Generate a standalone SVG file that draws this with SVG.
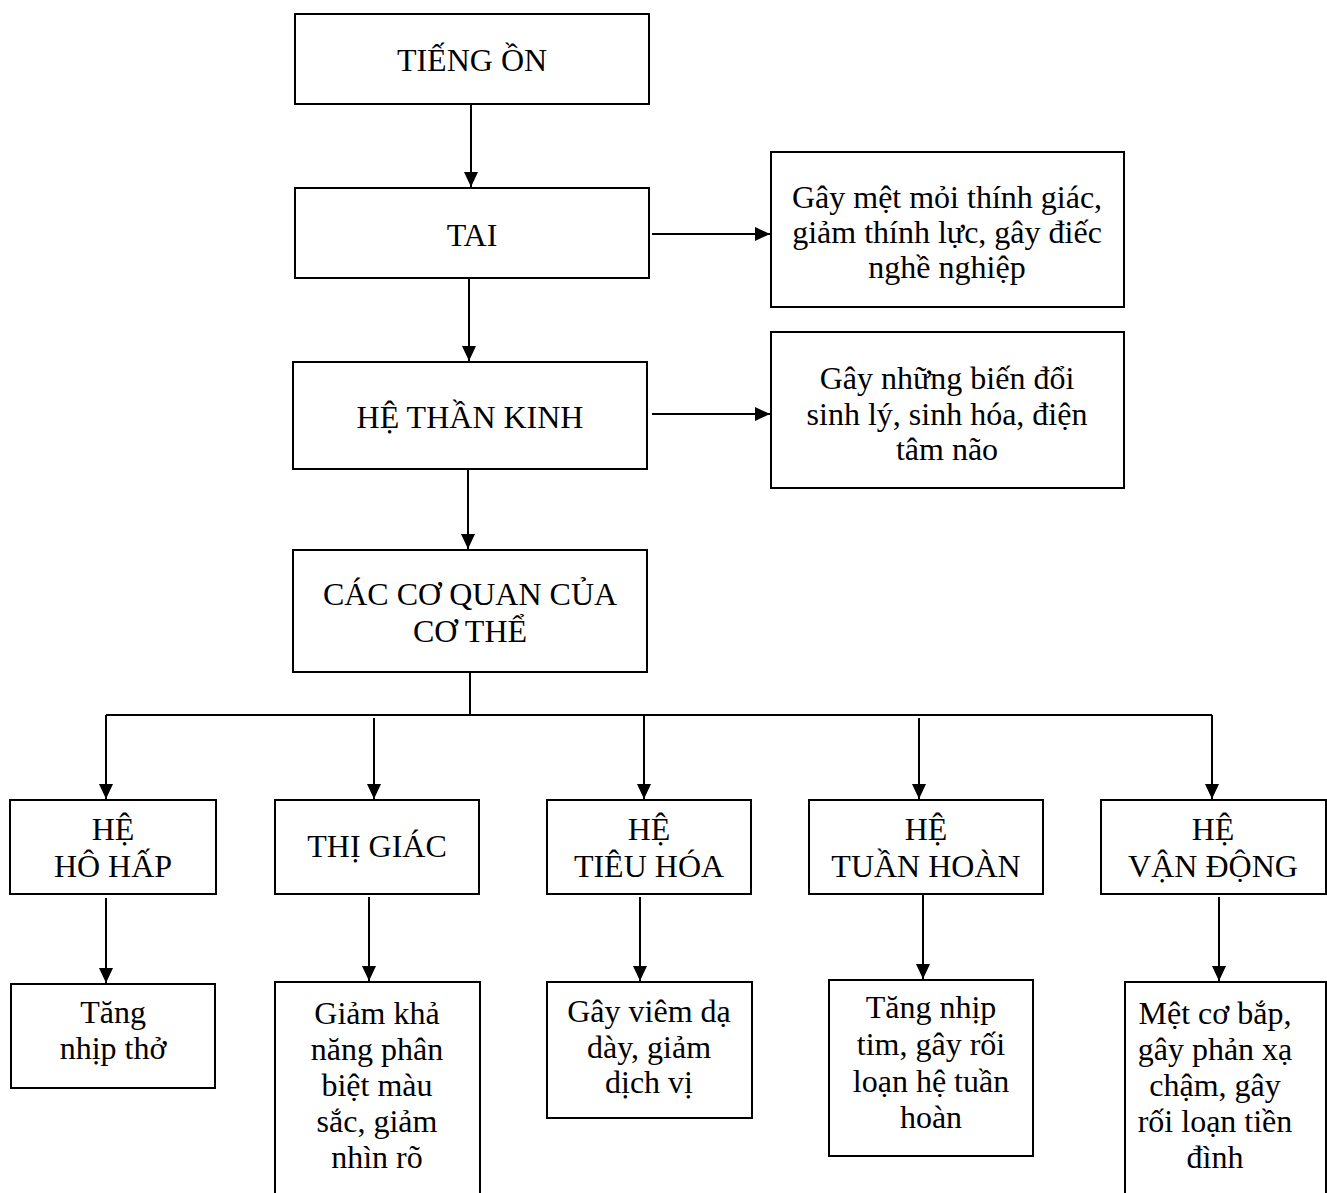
<svg xmlns="http://www.w3.org/2000/svg" width="1327" height="1193" viewBox="0 0 1327 1193">
<style>
.box{fill:#fff;stroke:#000;stroke-width:2}
.t{font-family:"Liberation Serif","Times New Roman",serif;font-size:32px;fill:#000;text-anchor:middle}
.c{stroke:#000;stroke-width:2;fill:none}
.ca{stroke:#000;stroke-width:2;fill:none;marker-end:url(#ah)}
</style>
<defs>
<marker id="ah" viewBox="0 0 15 14" refX="15" refY="7" markerWidth="15" markerHeight="14" markerUnits="userSpaceOnUse" orient="auto">
<path d="M0,0 L15,7 L0,14 z" fill="#000"/>
</marker>
</defs>
<rect width="1327" height="1193" fill="#fff"/>
<g id="connectors">
<line class="ca" x1="471" y1="105" x2="471" y2="187"/>
<line class="ca" x1="469" y1="278" x2="469" y2="361"/>
<line class="ca" x1="468" y1="469" x2="468" y2="549"/>
<line class="ca" x1="652" y1="234" x2="770" y2="234"/>
<line class="ca" x1="652" y1="414" x2="770" y2="414"/>
<line class="c" x1="470" y1="672" x2="470" y2="716"/>
<line class="c" x1="106" y1="715" x2="1212" y2="715"/>
<line class="ca" x1="106" y1="715" x2="106" y2="799"/>
<line class="ca" x1="374" y1="718" x2="374" y2="799"/>
<line class="ca" x1="644" y1="715" x2="644" y2="799"/>
<line class="ca" x1="919" y1="718" x2="919" y2="799"/>
<line class="ca" x1="1212" y1="715" x2="1212" y2="799"/>
<line class="ca" x1="106" y1="898" x2="106" y2="983"/>
<line class="ca" x1="369" y1="897" x2="369" y2="981"/>
<line class="ca" x1="640" y1="897" x2="640" y2="981"/>
<line class="ca" x1="923" y1="895" x2="923" y2="979"/>
<line class="ca" x1="1219" y1="897" x2="1219" y2="981"/>
</g>
<g id="n-tiengon">
<rect class="box" x="295" y="14" width="354" height="90"/>
<text class="t" x="472" y="71">TIẾNG ỒN</text>
</g>
<g id="n-tai">
<rect class="box" x="295" y="188" width="354" height="90"/>
<text class="t" x="472" y="246">TAI</text>
</g>
<g id="n-tai-effect">
<rect class="box" x="771" y="152" width="353" height="155"/>
<text class="t" x="947" y="208">Gây mệt mỏi thính giác,</text>
<text class="t" x="947" y="243">giảm thính lực, gây điếc</text>
<text class="t" x="947" y="278">nghề nghiệp</text>
</g>
<g id="n-htk">
<rect class="box" x="293" y="362" width="354" height="107"/>
<text class="t" x="470" y="428">HỆ THẦN KINH</text>
</g>
<g id="n-htk-effect">
<rect class="box" x="771" y="332" width="353" height="156"/>
<text class="t" x="947" y="389">Gây những biến đổi</text>
<text class="t" x="947" y="425">sinh lý, sinh hóa, điện</text>
<text class="t" x="947" y="460">tâm não</text>
</g>
<g id="n-coquan">
<rect class="box" x="293" y="550" width="354" height="122"/>
<text class="t" x="470" y="605">CÁC CƠ QUAN CỦA</text>
<text class="t" x="470" y="642">CƠ THỂ</text>
</g>
<g id="n-hohap">
<rect class="box" x="10" y="800" width="206" height="94"/>
<text class="t" x="113" y="840">HỆ</text>
<text class="t" x="113" y="877">HÔ HẤP</text>
</g>
<g id="n-thigiac">
<rect class="box" x="275" y="800" width="204" height="94"/>
<text class="t" x="377" y="857">THỊ GIÁC</text>
</g>
<g id="n-tieuhoa">
<rect class="box" x="547" y="800" width="204" height="94"/>
<text class="t" x="649" y="840">HỆ</text>
<text class="t" x="649" y="877">TIÊU HÓA</text>
</g>
<g id="n-tuanhoan">
<rect class="box" x="809" y="800" width="234" height="94"/>
<text class="t" x="926" y="840">HỆ</text>
<text class="t" x="926" y="877">TUẦN HOÀN</text>
</g>
<g id="n-vandong">
<rect class="box" x="1101" y="800" width="225" height="94"/>
<text class="t" x="1213" y="840">HỆ</text>
<text class="t" x="1213" y="877">VẬN ĐỘNG</text>
</g>
<g id="n-hohap-effect">
<rect class="box" x="11" y="984" width="204" height="104"/>
<text class="t" x="113" y="1023">Tăng</text>
<text class="t" x="113" y="1059">nhịp thở</text>
</g>
<g id="n-thigiac-effect">
<rect class="box" x="275" y="982" width="205" height="230"/>
<text class="t" x="377" y="1024">Giảm khả</text>
<text class="t" x="377" y="1060">năng phân</text>
<text class="t" x="377" y="1096">biệt màu</text>
<text class="t" x="377" y="1132">sắc, giảm</text>
<text class="t" x="377" y="1168">nhìn rõ</text>
</g>
<g id="n-tieuhoa-effect">
<rect class="box" x="547" y="982" width="205" height="136"/>
<text class="t" x="649" y="1022">Gây viêm dạ</text>
<text class="t" x="649" y="1058">dày, giảm</text>
<text class="t" x="649" y="1093">dịch vị</text>
</g>
<g id="n-tuanhoan-effect">
<rect class="box" x="829" y="980" width="204" height="176"/>
<text class="t" x="931" y="1018">Tăng nhịp</text>
<text class="t" x="931" y="1055">tim, gây rối</text>
<text class="t" x="931" y="1092">loạn hệ tuần</text>
<text class="t" x="931" y="1128">hoàn</text>
</g>
<g id="n-vandong-effect">
<rect class="box" x="1125" y="982" width="201" height="230"/>
<text class="t" x="1215" y="1024">Mệt cơ bắp,</text>
<text class="t" x="1215" y="1060">gây phản xạ</text>
<text class="t" x="1215" y="1096">chậm, gây</text>
<text class="t" x="1215" y="1132">rối loạn tiền</text>
<text class="t" x="1215" y="1168">đình</text>
</g>
</svg>
